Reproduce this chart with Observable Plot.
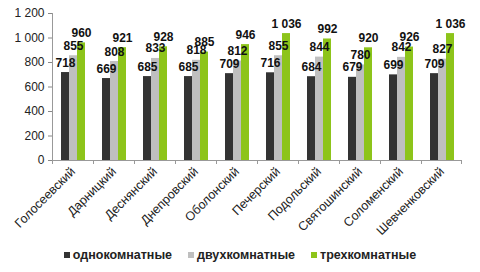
<!DOCTYPE html>
<html><head><meta charset="utf-8">
<script src="https://cdn.jsdelivr.net/npm/d3@7"></script>
<script src="https://cdn.jsdelivr.net/npm/@observablehq/plot@0.6"></script>
<style>
body{margin:0;background:#fff;font-family:"Liberation Sans",Arial,sans-serif;}
#chart{width:480px;height:272px;position:relative;}
.legend{position:absolute;left:0;top:248px;width:480px;display:flex;justify-content:center;gap:16px;font-weight:bold;font-size:12.5px;color:#222;}
.legend span{display:flex;align-items:center;}
.legend i{display:inline-block;width:6px;height:6px;margin-right:3px;}
</style></head>
<body><div id="chart"></div>
<script>
const districts = ["Голосеевский","Дарницкий","Деснянский","Днепровский","Оболонский","Печерский","Подольский","Святошинский","Соломенский","Шевченковский"];
const seriesNames = ["однокомнатные","двухкомнатные","трехкомнатные"];
const oneRoom = [718,669,685,685,709,716,684,679,699,709];
const twoRoom = [855,808,833,818,812,855,844,780,842,827];
const threeRoom = [960,921,928,885,946,1036,992,920,926,1036];
const colors = ["#333333","#bfbfbf","#8dc41a"];
const yTicks = [0,200,400,600,800,1000,1200];

const seriesValues = [oneRoom, twoRoom, threeRoom];
const data = [];
districts.forEach((d, i) => seriesNames.forEach((s, j) => data.push({district: d, series: s, value: seriesValues[j][i]})));

const fmt = v => d3.format(",")(v).replace(/,/g, " ");

const plot = Plot.plot({
  width: 480, height: 244,
  marginTop: 13, marginBottom: 84, marginLeft: 49, marginRight: 15,
  style: {fontFamily: '"Liberation Sans",Arial,sans-serif', fontSize: "12px", color: "#222"},
  fx: {domain: districts, padding: 0, label: null, tickRotate: -45, tickSize: 0, tickPadding: 9},
  x: {domain: seriesNames, paddingInner: 0, paddingOuter: 0.8, axis: null},
  y: {domain: [0, 1200], ticks: yTicks, tickFormat: fmt, label: null, tickSize: 4, tickPadding: 4},
  color: {domain: seriesNames, range: colors},
  marks: [
    Plot.barY(data, {fx: "district", x: "series", y: "value", fill: "series"}),
    Plot.text(data, {fx: "district", x: "series", y: "value", text: d => fmt(d.value), dy: -6, lineAnchor: "bottom", fontWeight: "bold", fontSize: 12, fill: "#111"})
  ]
});
document.getElementById("chart").appendChild(plot);
d3.select(plot).selectAll("[aria-label='fx-axis tick label'] text, [aria-label='fx-axis'] text").style("font-size", "12.5px");

// axis lines and group-boundary ticks derived from scales
const svg = d3.select(plot);
const fx = plot.scale("fx"), y = plot.scale("y");
const y0 = y.apply(0), y1 = y.apply(1200);
const left = fx.apply(districts[0]);
const bw = fx.bandwidth;
const right = fx.apply(districts[districts.length-1]) + bw;
svg.selectAll("[aria-label='y-axis tick'] path, [aria-label='y-axis'] path").attr("stroke", "#888");
const g = svg.append("g").attr("stroke", "#999").attr("stroke-width", 1);
g.append("line").attr("x1", left+0.5).attr("x2", left+0.5).attr("y1", y1).attr("y2", y0);
g.append("line").attr("x1", left).attr("x2", right).attr("y1", y0+0.5).attr("y2", y0+0.5);
districts.forEach(d => {
  const x = fx.apply(d) + 0.5;
  g.append("line").attr("x1", x).attr("x2", x).attr("y1", y0).attr("y2", y0+4);
});
g.append("line").attr("x1", right-0.5).attr("x2", right-0.5).attr("y1", y0).attr("y2", y0+4);

const legend = d3.select("#chart").append("div").attr("class", "legend");
seriesNames.forEach((s, i) => {
  const item = legend.append("span");
  item.append("i").style("background", colors[i]);
  item.append("text").text(s);
});
</script></body></html>
